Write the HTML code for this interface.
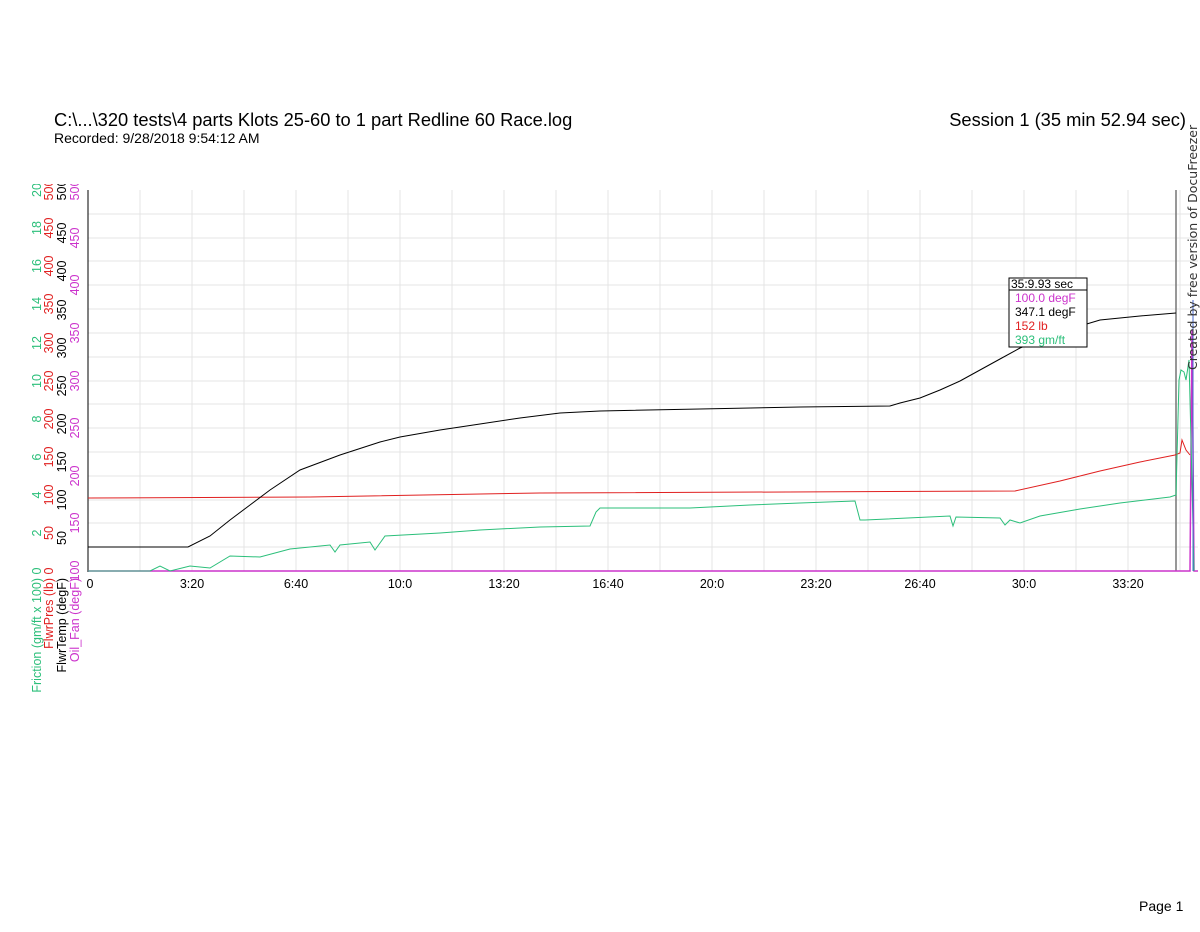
<!DOCTYPE html>
<html><head><style>
body{margin:0;background:#fff;width:1200px;height:927px;overflow:hidden;font-family:"Liberation Sans",Arial,sans-serif;}
</style></head><body>
<svg width="1200" height="927" xmlns="http://www.w3.org/2000/svg" font-family="Liberation Sans, Arial, sans-serif">
<defs><clipPath id="c"><rect x="0" y="184" width="1200" height="750"/></clipPath></defs>
<text x="54" y="126" font-size="18.3">C:\...\320 tests\4 parts Klots 25-60 to 1 part Redline 60 Race.log</text>
<text x="54" y="143" font-size="14">Recorded: 9/28/2018 9:54:12 AM</text>
<text x="1186" y="126" font-size="18.3" text-anchor="end">Session 1 (35 min 52.94 sec)</text>
<text x="1139" y="911" font-size="14">Page 1</text>
<g stroke="#e4e4e4" stroke-width="1">
<line x1="140" y1="190" x2="140" y2="571"/><line x1="192" y1="190" x2="192" y2="571"/><line x1="244" y1="190" x2="244" y2="571"/><line x1="296" y1="190" x2="296" y2="571"/><line x1="348" y1="190" x2="348" y2="571"/><line x1="400" y1="190" x2="400" y2="571"/><line x1="452" y1="190" x2="452" y2="571"/><line x1="504" y1="190" x2="504" y2="571"/><line x1="556" y1="190" x2="556" y2="571"/><line x1="608" y1="190" x2="608" y2="571"/><line x1="660" y1="190" x2="660" y2="571"/><line x1="712" y1="190" x2="712" y2="571"/><line x1="764" y1="190" x2="764" y2="571"/><line x1="816" y1="190" x2="816" y2="571"/><line x1="868" y1="190" x2="868" y2="571"/><line x1="920" y1="190" x2="920" y2="571"/><line x1="972" y1="190" x2="972" y2="571"/><line x1="1024" y1="190" x2="1024" y2="571"/><line x1="1076" y1="190" x2="1076" y2="571"/><line x1="1128" y1="190" x2="1128" y2="571"/><line x1="1180" y1="190" x2="1180" y2="571"/>
<line x1="88" y1="214" x2="1198" y2="214"/><line x1="88" y1="238" x2="1198" y2="238"/><line x1="88" y1="261" x2="1198" y2="261"/><line x1="88" y1="285" x2="1198" y2="285"/><line x1="88" y1="309" x2="1198" y2="309"/><line x1="88" y1="333" x2="1198" y2="333"/><line x1="88" y1="357" x2="1198" y2="357"/><line x1="88" y1="381" x2="1198" y2="381"/><line x1="88" y1="404" x2="1198" y2="404"/><line x1="88" y1="428" x2="1198" y2="428"/><line x1="88" y1="452" x2="1198" y2="452"/><line x1="88" y1="476" x2="1198" y2="476"/><line x1="88" y1="500" x2="1198" y2="500"/><line x1="88" y1="523" x2="1198" y2="523"/><line x1="88" y1="547" x2="1198" y2="547"/>
</g>
<line x1="88" y1="190" x2="88" y2="572" stroke="#000"/>
<line x1="1176" y1="190" x2="1176" y2="571" stroke="#777" stroke-width="1.5"/>
<g font-size="12.5" text-anchor="middle">
<text x="90" y="588">0</text><text x="192" y="588">3:20</text><text x="296" y="588">6:40</text><text x="400" y="588">10:0</text><text x="504" y="588">13:20</text><text x="608" y="588">16:40</text><text x="712" y="588">20:0</text><text x="816" y="588">23:20</text><text x="920" y="588">26:40</text><text x="1024" y="588">30:0</text><text x="1128" y="588">33:20</text>
</g>
<g font-size="12.5" text-anchor="middle" clip-path="url(#c)">
<g fill="#2bbf7a">
<text transform="translate(41,571) rotate(-90)">0</text><text transform="translate(41,533) rotate(-90)">2</text><text transform="translate(41,495) rotate(-90)">4</text><text transform="translate(41,457) rotate(-90)">6</text><text transform="translate(41,419) rotate(-90)">8</text><text transform="translate(41,381) rotate(-90)">10</text><text transform="translate(41,343) rotate(-90)">12</text><text transform="translate(41,304) rotate(-90)">14</text><text transform="translate(41,266) rotate(-90)">16</text><text transform="translate(41,228) rotate(-90)">18</text><text transform="translate(41,190) rotate(-90)">20</text></g>
<g fill="#e02020">
<text transform="translate(53,571) rotate(-90)">0</text><text transform="translate(53,533) rotate(-90)">50</text><text transform="translate(53,495) rotate(-90)">100</text><text transform="translate(53,457) rotate(-90)">150</text><text transform="translate(53,419) rotate(-90)">200</text><text transform="translate(53,381) rotate(-90)">250</text><text transform="translate(53,343) rotate(-90)">300</text><text transform="translate(53,304) rotate(-90)">350</text><text transform="translate(53,266) rotate(-90)">400</text><text transform="translate(53,228) rotate(-90)">450</text><text transform="translate(53,190) rotate(-90)">500</text></g>
<g fill="#000">
<text transform="translate(66,538) rotate(-90)">50</text><text transform="translate(66,500) rotate(-90)">100</text><text transform="translate(66,462) rotate(-90)">150</text><text transform="translate(66,424) rotate(-90)">200</text><text transform="translate(66,386) rotate(-90)">250</text><text transform="translate(66,348) rotate(-90)">300</text><text transform="translate(66,310) rotate(-90)">350</text><text transform="translate(66,271) rotate(-90)">400</text><text transform="translate(66,233) rotate(-90)">450</text><text transform="translate(66,190) rotate(-90)">500</text></g>
<g fill="#cc33cc">
<text transform="translate(79,571) rotate(-90)">100</text><text transform="translate(79,523) rotate(-90)">150</text><text transform="translate(79,476) rotate(-90)">200</text><text transform="translate(79,428) rotate(-90)">250</text><text transform="translate(79,381) rotate(-90)">300</text><text transform="translate(79,333) rotate(-90)">350</text><text transform="translate(79,285) rotate(-90)">400</text><text transform="translate(79,238) rotate(-90)">450</text><text transform="translate(79,190) rotate(-90)">500</text></g>
</g>
<g font-size="12.5" text-anchor="end">
<text transform="translate(41,578) rotate(-90)" fill="#2bbf7a">Friction (gm/ft x 100)</text>
<text transform="translate(53,578) rotate(-90)" fill="#e02020">FlwrPres (lb)</text>
<text transform="translate(66,578) rotate(-90)" fill="#000">FlwrTemp (degF)</text>
<text transform="translate(79,578) rotate(-90)" fill="#cc33cc">Oil_Fan (degF)</text>
</g>
<polyline fill="none" stroke="#cc33cc" stroke-width="1.5" points="88,571 1190,571 1192,330 1194,571 1198,571"/>
<polyline fill="none" stroke="#e02020" stroke-width="1" points="88,498 310,497 540,493 1015,491 1060,481 1100,471 1140,462 1175,455 1180,453 1182,440 1186,450 1190,455"/>
<polyline fill="none" stroke="#2bbf7a" stroke-width="1" points="88,571 150,571 160,566 170,571 190,566 210,568 230,556 260,557 290,549 330,545 335,552 340,545 370,542 375,550 385,536 440,533 480,530 540,527 590,526 596,512 600,508 690,508 750,505 800,503 855,501 860,520 865,520 950,516 953,526 956,517 1000,518 1005,525 1010,520 1020,523 1040,516 1080,509 1120,503 1170,497 1176,495 1179,380 1181,370 1184,372 1186,380 1189,360 1191,440 1194,571"/>
<polyline fill="none" stroke="#000" stroke-width="1" points="88,547 188,547 210,536 230,520 250,505 270,490 300,470 340,455 380,442 400,437 440,430 480,424 520,418 560,413 600,411 700,409 800,407 890,406 900,403 920,398 940,390 960,381 980,370 1000,359 1020,348 1060,332 1100,320 1140,316 1176,313"/>
<line x1="1193" y1="300" x2="1193" y2="571" stroke="#4466cc" stroke-width="1"/>
<rect x="1009" y="278" width="78" height="69" fill="#fff" stroke="#000"/>
<line x1="1009" y1="290" x2="1087" y2="290" stroke="#000"/>
<g font-size="12">
<text x="1011" y="288">35:9.93 sec</text>
<text x="1015" y="302" fill="#cc33cc">100.0 degF</text>
<text x="1015" y="316">347.1 degF</text>
<text x="1015" y="330" fill="#e02020">152 lb</text>
<text x="1015" y="344" fill="#2bbf7a">393 gm/ft</text>
</g>
<text transform="translate(1197,370) rotate(-90)" font-family="DejaVu Sans, sans-serif" font-size="12.5" fill="#333">Created by free version of DocuFreezer</text>
</svg>
</body></html>
